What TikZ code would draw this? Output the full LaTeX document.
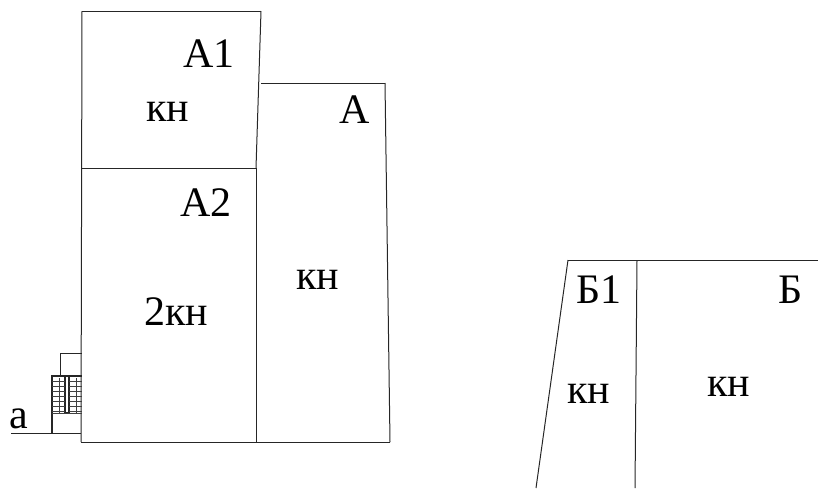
\documentclass[tikz,border=0pt]{standalone}
\usepackage{fontspec}
\setmainfont{Liberation Serif}
\tikzset{
	wall/.style={draw=black!85, line width=1pt},
	thin wall/.style={draw=black!75, line width=0.7pt},
	label big/.style={inner sep=0pt, font=\fontsize{42}{42}\selectfont},
	label room/.style={inner sep=0pt, font=\fontsize{42}{42}\selectfont}
}
\begin{document}
\begin{tikzpicture}[x=1pt, y=-1pt]
		\useasboundingbox (0, 0) rectangle (818, 488);
		\coordinate (A) at (82, 11);
		\coordinate (B) at (261, 11);
		\coordinate (C) at (261, 83);
		\coordinate (D) at (385, 83);
		\coordinate (E) at (390, 442);
		\coordinate (F) at (256, 442);
		\coordinate (G) at (81, 442);
		\coordinate (H) at (256, 168);
		\coordinate (I) at (82, 168);
		\coordinate (J) at (568, 260);
		\coordinate (K) at (818, 260);
		\coordinate (L) at (637, 260);
		\coordinate (M) at (635, 488);
		\coordinate (N) at (536, 488);
		\coordinate (P) at (11, 433);
		\coordinate (Q) at (52, 433);
		\coordinate (R) at (81, 433);

		\foreach \s/\t in {A/B, B/H, H/F, A/G, G/E, E/D, D/C, I/H, J/K, J/N, L/M, P/Q, Q/R} {
			\draw[wall] (\s) -- (\t);
		}

		% porch and steps
		\draw[wall] (60, 376) -- (60, 353) -- (82, 353);
		\draw[wall, line width=1.4pt] (52, 433) -- (52, 376) -- (82, 376);
		\draw[wall, line width=1.4pt] (65, 376) -- (65, 413) -- (69, 413) -- (69, 376);
		\foreach \y in {381, 386, 391, 396, 401, 406, 411} {
			\draw[thin wall] (52, \y) -- (65, \y);
			\draw[thin wall] (69, \y) -- (82, \y);
		}
		\draw[thin wall] (59, 378) -- (59, 413);
		\draw[thin wall] (76, 378) -- (76, 413);
		\draw[thin wall] (52, 413) -- (82, 413);

		\node[label big] (a1) at (209, 54) {А1};
		\node[label big] (a0) at (355, 110) {А};
		\node[label big] (a2) at (206, 203) {А2};
		\node[label big] (b1) at (599, 290) {Б1};
		\node[label big] (b0) at (791, 290) {Б};
		\node[label room] (r1) at (168, 112) {кн};
		\node[label room] (r2) at (176, 312) {2кн};
		\node[label room] (r3) at (318, 280) {кн};
		\node[label room] (r4) at (589, 394) {кн};
		\node[label room] (r5) at (729, 387) {кн};
		\node[label big] (s0) at (19, 419) {а};
	\end{tikzpicture}
\end{document}
